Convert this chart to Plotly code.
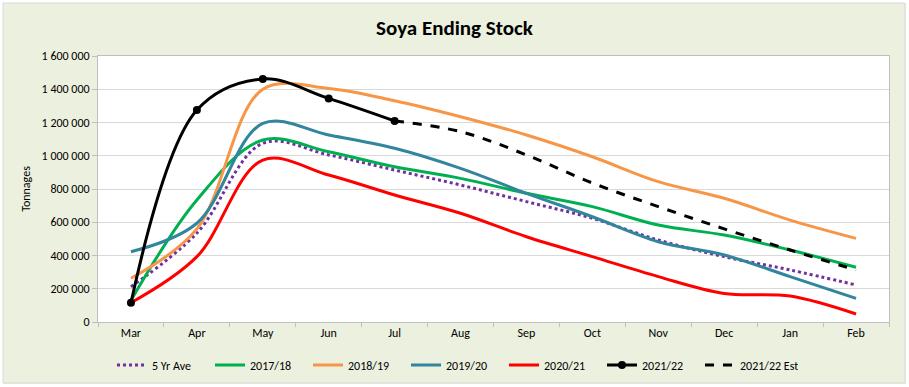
import plotly.graph_objects as go

months = ["Mar", "Apr", "May", "Jun", "Jul", "Aug", "Sep", "Oct", "Nov", "Dec", "Jan", "Feb"]
avg5 = [212000, 535000, 1075000, 1005000, 914000, 824000, 724000, 624000, 493000, 393000, 313000, 223000]
s1718 = [130000, 734000, 1095000, 1024000, 934000, 864000, 774000, 694000, 583000, 523000, 433000, 329000]
s1819 = [263000, 560000, 1400000, 1405000, 1331000, 1235000, 1125000, 994000, 844000, 744000, 613000, 503000]
s1920 = [423000, 594000, 1195000, 1125000, 1045000, 924000, 774000, 633000, 483000, 403000, 273000, 142000]
s2021 = [116000, 393000, 974000, 884000, 764000, 654000, 513000, 393000, 273000, 172000, 156000, 48000]
s2122_months = ["Mar", "Apr", "May", "Jun", "Jul"]
s2122 = [116000, 1275000, 1462000, 1345000, 1209000]
est_months = ["Jul", "Aug", "Sep", "Oct", "Nov", "Dec", "Jan", "Feb"]
est2122 = [1209000, 1145000, 1005000, 836000, 694000, 560000, 433000, 313000]

FONT = "Carlito, Calibri, 'Liberation Sans Narrow', 'Open Sans', sans-serif"

fig = go.Figure()
sp = dict(shape="spline", smoothing=1.0)
fig.add_trace(go.Scatter(x=months, y=avg5, name="5 Yr Ave", mode="lines",
                         line=dict(color="#7030A0", width=3, dash="dot", **sp)))
fig.add_trace(go.Scatter(x=months, y=s1718, name="2017/18", mode="lines",
                         line=dict(color="#00B050", width=3, **sp)))
fig.add_trace(go.Scatter(x=months, y=s1819, name="2018/19", mode="lines",
                         line=dict(color="#F79646", width=3, **sp)))
fig.add_trace(go.Scatter(x=months, y=s1920, name="2019/20", mode="lines",
                         line=dict(color="#31859C", width=3, **sp)))
fig.add_trace(go.Scatter(x=months, y=s2021, name="2020/21", mode="lines",
                         line=dict(color="#FF0000", width=3, **sp)))
fig.add_trace(go.Scatter(x=s2122_months, y=s2122, name="2021/22", mode="lines+markers",
                         line=dict(color="#000000", width=3, **sp),
                         marker=dict(color="#000000", size=8)))
fig.add_trace(go.Scatter(x=est_months, y=est2122, name="2021/22 Est", mode="lines",
                         line=dict(color="#000000", width=3, dash="dash", **sp)))

fig.update_layout(
    width=909, height=387,
    margin=dict(l=98, r=20, t=56, b=65, autoexpand=False),
    paper_bgcolor="#EBF0DF",
    plot_bgcolor="#FFFFFF",
    separators=". ",
    font=dict(family=FONT, size=12, color="#000000"),
    title=dict(text="<b>Soya Ending Stock</b>", x=0.5, xref="container", xanchor="center",
               y=1 - 28 / 387, yanchor="middle", font=dict(size=21, family=FONT)),
    legend=dict(orientation="h", x=(455 - 98) / 791, xanchor="center",
                y=(322 - 365) / 266, yanchor="middle", itemwidth=30,
                traceorder="normal", font=dict(size=12, family=FONT),
                bgcolor="rgba(0,0,0,0)", entrywidth=53),
    showlegend=True,
)
fig.update_xaxes(categoryorder="array", categoryarray=months, range=[-0.5, 11.5],
                 showline=True, linecolor="#BFBFBF", linewidth=1, mirror=True,
                 ticks="outside", tickson="boundaries", ticklen=4, tickcolor="#BFBFBF",
                 showgrid=False, tickfont=dict(size=12), fixedrange=True)
fig.update_yaxes(range=[0, 1600000], dtick=200000, tickformat=",d",
                 showline=True, linecolor="#BFBFBF", linewidth=1, mirror=True,
                 ticks="outside", ticklen=5, tickcolor="#BFBFBF",
                 gridcolor="#D9D9D9", gridwidth=1, zeroline=False,
                 title=dict(text="Tonnages", font=dict(size=12), standoff=8),
                 tickfont=dict(size=12), fixedrange=True)

# outer frame
x0 = (3 - 98) / 791
x1 = (905 - 98) / 791
y0 = (322 - 383) / 266
y1 = (322 - 3) / 266
fig.add_shape(type="rect", xref="paper", yref="paper",
              x0=(0 - 98) / 791, x1=(909 - 98) / 791, y0=(322 - 387) / 266, y1=(322 - 0) / 266,
              line=dict(color="#FFFFFF", width=6), fillcolor="rgba(0,0,0,0)", layer="above")
fig.add_shape(type="rect", xref="paper", yref="paper", x0=x0, x1=x1, y0=y0, y1=y1,
              line=dict(color="#D9D9D9", width=1), fillcolor="rgba(0,0,0,0)", layer="above")

fig.write_html("out.html", config={"displayModeBar": False},
               post_script="document.body.style.margin='0px';document.body.style.overflow='hidden';")
